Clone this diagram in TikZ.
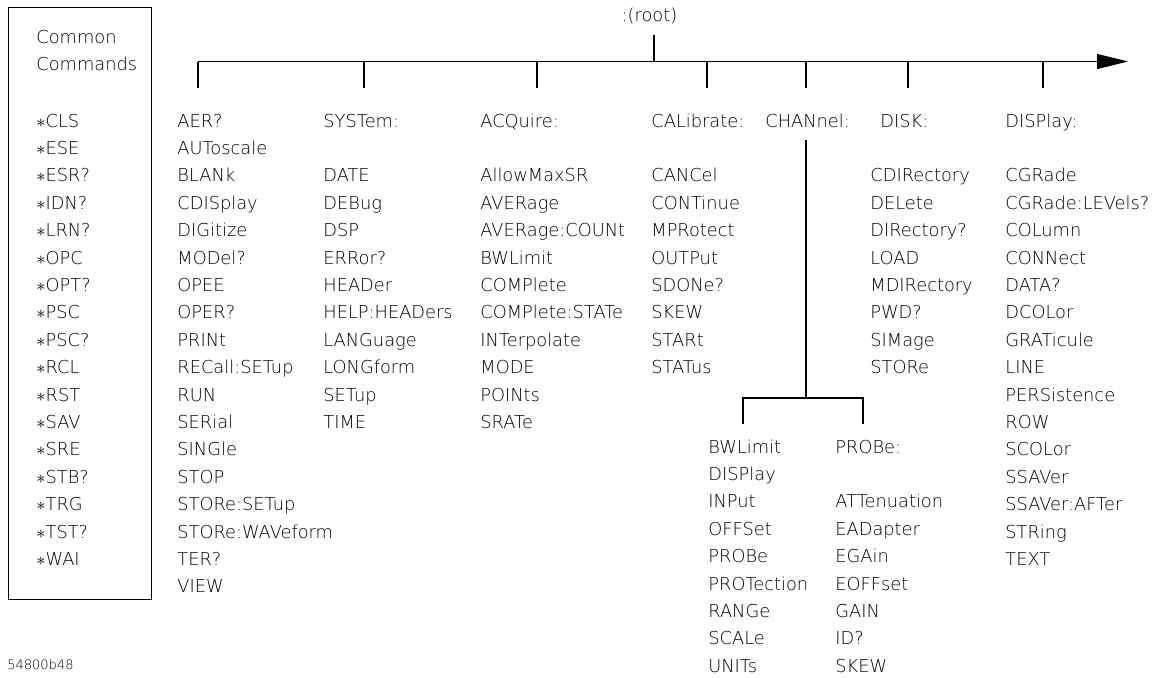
\documentclass[tikz,border=0pt]{standalone}
\usepackage{fontspec}
\setmainfont{DejaVu Sans ExtraLight}
\usepackage{tikz}
\usetikzlibrary{arrows.meta}

\begin{document}
\begin{tikzpicture}[
  x=0.5pt, y=-0.5pt,
  >={Triangle[length=15.5pt,width=7.5pt]},
  cmd/.style={inner sep=0pt, anchor=base west, text height=6.5pt,
    text depth=0pt, font=\fontsize{8.9}{10}\selectfont},
  wire/.style={line width=0.55pt},
  tap/.style={wire, shorten >=13pt}
]
\useasboundingbox (0,0) rectangle (1164,677);
\node[draw, wire, anchor=north west, inner sep=0pt,
  minimum width=71.5pt, minimum height=296pt] (common) at (8,7) {};
\node[cmd] (cc-a) at (36,43) {Common};
\node[cmd] (cc-b) at (36,70) {Commands};
\foreach \t [count=\i from 0] in {CLS,ESE,ESR?,IDN?,LRN?,OPC,OPT?,PSC,PSC?,
    RCL,RST,SAV,SRE,STB?,TRG,TST?,WAI}
  \node[cmd] (cc-\i) at (36,127+27.4*\i) {$\ast$\t};
\node[cmd, font=\fontsize{6.5}{8}\selectfont] (figid) at (7,669) {54800b48};
\node[cmd, anchor=base] (root) at (649.5,21) {:(root)};
\foreach \t [count=\i from 0] in {AER?,AUToscale,BLANk,CDISplay,DIGitize,
    MODel?,OPEE,OPER?,PRINt,RECall:SETup,RUN,SERial,SINGle,STOP,
    STORe:SETup,STORe:WAVeform,TER?,VIEW}
  \node[cmd] (misc-\i) at (177,127+27.4*\i) {\t};
\node[cmd] (sys) at (323,127) {SYSTem:};
\foreach \t [count=\i from 2] in {DATE,DEBug,DSP,ERRor?,HEADer,
    HELP:HEADers,LANGuage,LONGform,SETup,TIME}
  \node[cmd] (sys-\i) at (323,127+27.4*\i) {\t};
\node[cmd] (acq) at (480,127) {ACQuire:};
\foreach \t [count=\i from 2] in {AllowMaxSR,AVERage,AVERage:COUNt,BWLimit,
    COMPlete,COMPlete:STATe,INTerpolate,MODE,POINts,SRATe}
  \node[cmd] (acq-\i) at (480,127+27.4*\i) {\t};
\node[cmd] (cal) at (651,127) {CALibrate:};
\foreach \t [count=\i from 2] in {CANCel,CONTinue,MPRotect,OUTPut,SDONe?,
    SKEW,STARt,STATus}
  \node[cmd] (cal-\i) at (651,127+27.4*\i) {\t};
\node[cmd] (chan) at (765,127) {CHANnel:};
\node[cmd] (disk) at (880,127) {DISK:};
\foreach \t [count=\i from 2] in {CDIRectory,DELete,DIRectory?,LOAD,
    MDIRectory,PWD?,SIMage,STORe}
  \node[cmd] (disk-\i) at (870,127+27.4*\i) {\t};
\node[cmd] (disp) at (1005,127) {DISPlay:};
\foreach \t [count=\i from 2] in {CGRade,CGRade:LEVels?,COLumn,CONNect,DATA?,
    DCOLor,GRATicule,LINE,PERSistence,ROW,SCOLor,SSAVer,SSAVer:AFTer,
    STRing,TEXT}
  \node[cmd] (disp-\i) at (1005,127+27.4*\i) {\t};
\foreach \t [count=\i from 0] in {BWLimit,DISPlay,INPut,OFFSet,PROBe,
    PROTection,RANGe,SCALe,UNITs}
  \node[cmd] (chsub-\i) at (708,453+27.4*\i) {\t};
\node[cmd] (probe) at (835,453) {PROBe:};
\foreach \t [count=\i from 2] in {ATTenuation,EADapter,EGAin,EOFFset,GAIN,
    ID?,SKEW}
  \node[cmd] (probe-\i) at (835,453+27.4*\i) {\t};
\coordinate (bus-w) at (198,61.5);
\coordinate (bus-e) at (1128,61.5);
\coordinate (t-root) at (654,61.5);
\coordinate (t-sys) at (364,61.5);
\coordinate (t-acq) at (537,61.5);
\coordinate (t-cal) at (707,61.5);
\coordinate (t-chan) at (806,61.5);
\coordinate (t-disk) at (908,61.5);
\coordinate (t-disp) at (1043,61.5);
\draw[wire,->] (bus-w) -- (bus-e);
\draw[wire, shorten >=7pt] (t-root) -- (t-root |- root.south);
\draw[tap] (bus-w) -- (bus-w |- misc-0.north);
\draw[tap] (t-sys) -- (t-sys |- sys.north);
\draw[tap] (t-acq) -- (t-acq |- acq.north);
\draw[tap] (t-cal) -- (t-cal |- cal.north);
\draw[tap] (t-chan) -- (t-chan |- chan.north);
\draw[tap] (t-disk) -- (t-disk |- disk.north);
\draw[tap] (t-disp) -- (t-disp |- disp.north);
\coordinate (ch-split) at (806,398);
\coordinate (ch-l) at (743,398);
\coordinate (ch-r) at (863,398);
\draw[wire, shorten <=6.5pt] (t-chan |- chan.south) -- (ch-split);
\draw[wire, shorten <=8pt, shorten >=8pt] (ch-l |- chsub-0.north)
  -- (ch-l) -- (ch-r) -- (ch-r |- probe.north);
\end{tikzpicture}
\end{document}
